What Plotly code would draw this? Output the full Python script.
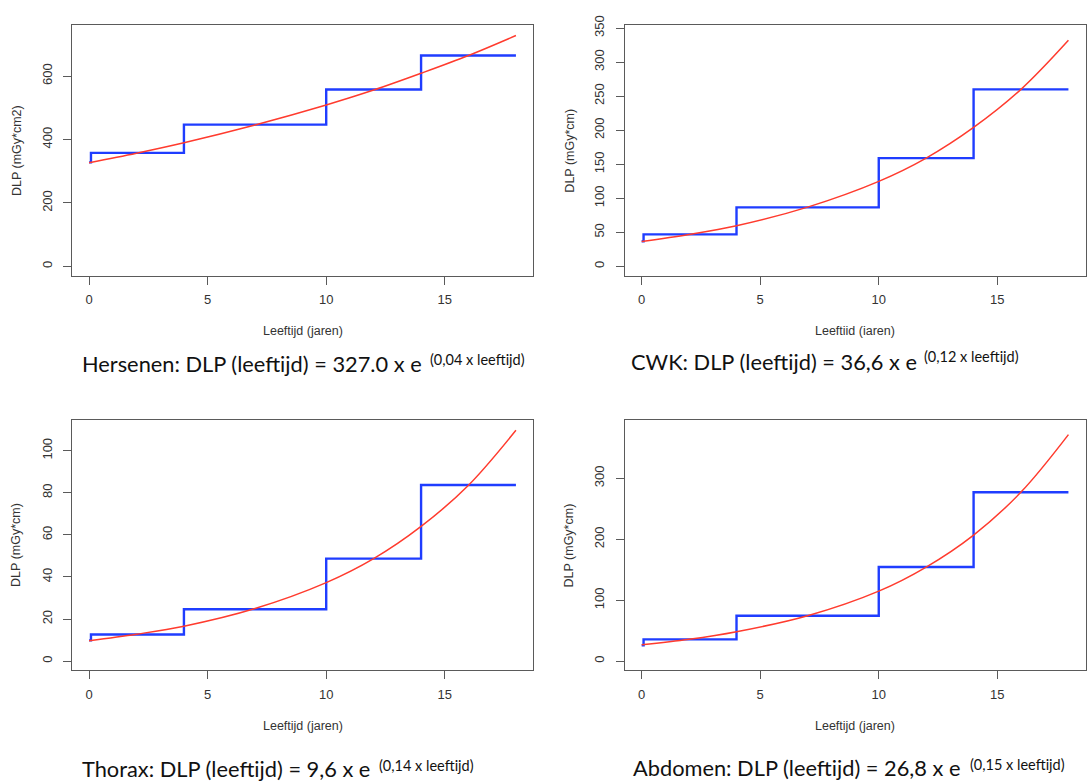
import plotly.graph_objects as go

# ---------------- data ----------------
step_ages = [0, 0.08, 4, 10, 14, 18]
fit_ages = [0, 2, 4, 7, 10, 12, 14, 16, 18]

hersenen_step = [328, 358, 447, 558, 665, 665]
hersenen_fit = [327, 357, 390, 446, 509, 556, 609, 665, 728]

cwk_step = [36.8, 47, 86.6, 159, 260, 260]
cwk_fit = [36.6, 46.8, 59.6, 87, 124.8, 159, 204, 260, 332]

thorax_step = [9.9, 12.7, 24.7, 48.7, 83.7, 83.7]
thorax_fit = [9.7, 12.8, 16.6, 25, 37.3, 48.7, 64, 83.6, 109.7]

abdomen_step = [26, 35.7, 74.6, 154.5, 277.3, 277.3]
abdomen_fit = [26.8, 35.8, 48.3, 74.6, 115, 154.5, 207, 277.5, 371.8]

x_ticks = [0, 5, 10, 15]
hersenen_yticks = [0, 200, 400, 600]
cwk_yticks = [0, 50, 100, 150, 200, 250, 300, 350]
thorax_yticks = [0, 20, 40, 60, 80, 100]
abdomen_yticks = [0, 100, 200, 300]

x_title = "Leeftijd (jaren)"
x_title_cwk = "Leeftiid (iaren)"
y_title_cm2 = "DLP (mGy*cm2)"
y_title_cm = "DLP (mGy*cm)"

captions_main = [
    "Hersenen: DLP (leeftijd) = 327.0 x e",
    "CWK: DLP (leeftijd) = 36,6 x e",
    "Thorax: DLP (leeftijd) = 9,6 x e",
    "Abdomen: DLP (leeftijd) = 26,8 x e",
]
captions_sup = [
    "(0,04 x leeftijd)",
    "(0,12 x leeftijd)",
    "(0,14 x leeftijd)",
    "(0,15 x leeftijd)",
]

# ---------------- layout geometry ----------------
W, H = 1088, 781


def px(x):
    return x / W


def py(y):
    return 1 - y / H


LEFT = (72, 533)
RIGHT = (624.6, 1085.5)
TOP = (15.7, 269)
BOTTOM = (415.7, 669)

panels = [
    dict(xd=LEFT, yd=TOP, step=hersenen_step, fit=hersenen_fit, yticks=hersenen_yticks,
         yr=[-29, 759.7], ytitle=y_title_cm2, xtitle=x_title),
    dict(xd=RIGHT, yd=TOP, step=cwk_step, fit=cwk_fit, yticks=cwk_yticks,
         yr=[-13.5, 353.8], ytitle=y_title_cm, xtitle=x_title_cwk),
    dict(xd=LEFT, yd=BOTTOM, step=thorax_step, fit=thorax_fit, yticks=thorax_yticks,
         yr=[-4.4, 114.4], ytitle=y_title_cm, xtitle=x_title),
    dict(xd=RIGHT, yd=BOTTOM, step=abdomen_step, fit=abdomen_fit, yticks=abdomen_yticks,
         yr=[-15.2, 395.2], ytitle=y_title_cm, xtitle=x_title),
]

caption_pos = [
    # (main_left_x, main_center_y, sup_left_x, sup_center_y)
    (81, 358.5, 428.5, 354.5),
    (630, 356, 923, 351.5),
    (80.6, 768.5, 378, 765.5),
    (632, 767, 969, 764.5),
]

AXIS_COLOR = "#5a5a5a"
TEXT_COLOR = "#333333"
BLUE = "#1f3dff"
RED = "#ff3b2e"
TICK_FONT = dict(family="Liberation Sans, Arial, sans-serif", size=13, color=TEXT_COLOR)

fig = go.Figure()
annotations = []

for i, p in enumerate(panels, start=1):
    xa = "x" if i == 1 else f"x{i}"
    ya = "y" if i == 1 else f"y{i}"
    fig.add_trace(go.Scatter(
        x=step_ages, y=p["step"], mode="lines", line=dict(color=BLUE, width=2.4, shape="hv"),
        xaxis=xa, yaxis=ya, showlegend=False, hoverinfo="skip"))
    fig.add_trace(go.Scatter(
        x=fit_ages, y=p["fit"], mode="lines", line=dict(color=RED, width=1.5, shape="spline", smoothing=1.0),
        xaxis=xa, yaxis=ya, showlegend=False, hoverinfo="skip"))

    x0, x1 = p["xd"]
    ytop, ybot = p["yd"]
    common = dict(showline=True, mirror=True, linecolor=AXIS_COLOR, linewidth=1,
                  ticks="outside", ticklen=8, tickwidth=1, tickcolor=AXIS_COLOR,
                  showgrid=False, zeroline=False, tickfont=TICK_FONT)
    fig.update_layout(**{
        ("xaxis" if i == 1 else f"xaxis{i}"): dict(
            domain=[px(x0), px(x1)], range=[-0.72, 18.72], tickvals=x_ticks,
            anchor=ya, ticklabelstandoff=4, **common),
        ("yaxis" if i == 1 else f"yaxis{i}"): dict(
            domain=[py(ybot), py(ytop)], range=p["yr"], tickvals=p["yticks"],
            anchor=xa, tickangle=-90, ticklabelstandoff=6, **common),
    })

    annotations.append(dict(
        x=px((x0 + x1) / 2), y=py(ybot + 56), xref="paper", yref="paper",
        text=p["xtitle"], showarrow=False, xanchor="center", yanchor="middle",
        font=dict(family="Liberation Sans, Arial, sans-serif", size=12.5, color=TEXT_COLOR)))
    annotations.append(dict(
        x=px(x0 - 55.5), y=py((ytop + ybot) / 2), xref="paper", yref="paper",
        text=p["ytitle"], showarrow=False, textangle=-90, xanchor="center", yanchor="middle",
        font=dict(family="Liberation Sans, Arial, sans-serif", size=12.5, color=TEXT_COLOR)))

for (mx, my, sx, sy), main, sup in zip(caption_pos, captions_main, captions_sup):
    annotations.append(dict(
        x=px(mx), y=py(my), xref="paper", yref="paper", text=main, showarrow=False,
        xanchor="left", yanchor="middle", borderpad=0,
        font=dict(family="Lato, Carlito, sans-serif", size=21.8, color="#111111")))
    annotations.append(dict(
        x=px(sx), y=py(sy), xref="paper", yref="paper", text=sup, showarrow=False,
        xanchor="left", yanchor="middle", borderpad=0,
        font=dict(family="Lato, Carlito, sans-serif", size=14.5, color="#111111")))

fig.update_layout(
    width=W, height=H, margin=dict(l=0, r=0, t=0, b=0),
    paper_bgcolor="white", plot_bgcolor="white",
    annotations=annotations, showlegend=False,
)

fig.write_html(
    "out.html",
    config={"displayModeBar": False, "staticPlot": True},
    post_script="document.body.style.margin='0';document.body.style.overflow='hidden';",
)
